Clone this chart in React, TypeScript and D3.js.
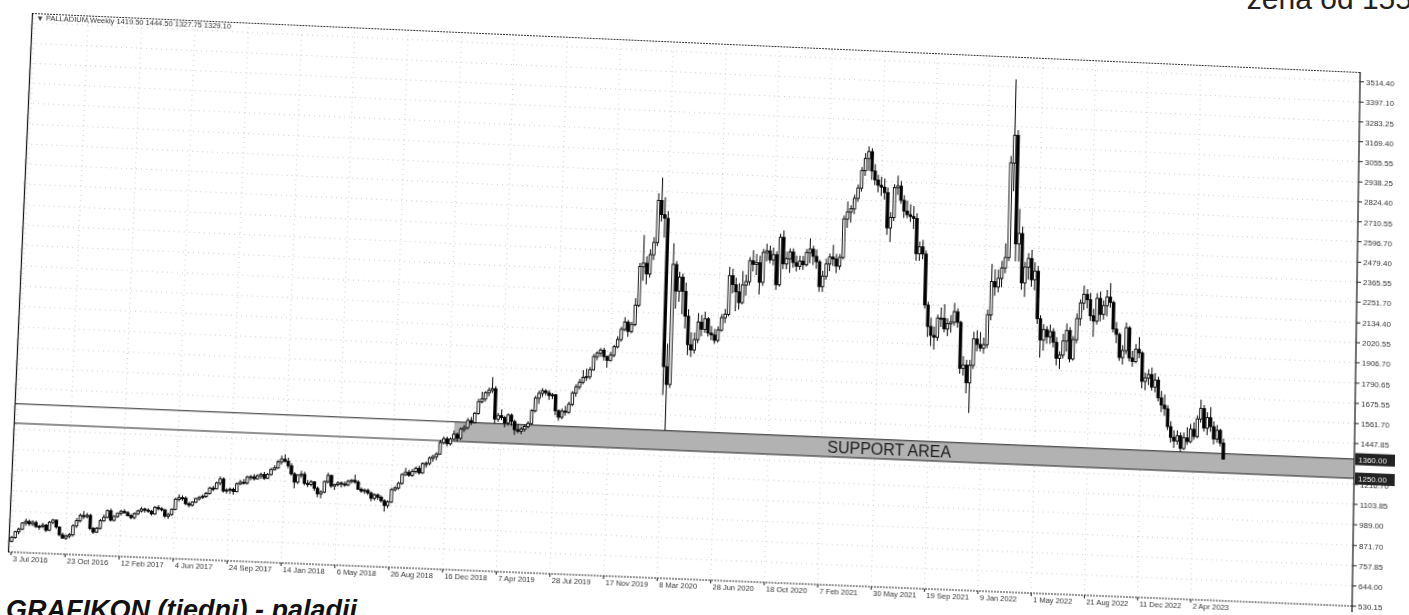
import React from 'react';
import * as d3 from 'd3';

// Weekly palladium bars [open, high, low, close], weeks starting 3 Jul 2016
const bars2016 = [
  [590,620,585,612],[612,650,605,645],[645,668,630,660],[660,700,655,695],[695,720,680,705],
  [705,715,680,690],[690,712,680,700],[700,710,670,678],[678,690,660,680],[680,700,670,688],
  [688,695,650,660],[660,712,655,705],[705,725,695,718],[718,720,670,680],[680,685,630,638],
  [638,650,615,620],[620,640,610,632],[632,650,620,640],[640,700,630,690],[690,735,680,720],
  [720,760,710,750],[750,775,730,745],[745,765,735,752],[752,760,670,680],[680,690,650,660],
  [660,690,655,682]
];
const bars2017 = [
  [682,735,675,725],[725,760,720,745],[745,790,740,782],[782,795,725,730],[730,760,725,752],
  [752,775,745,770],[770,790,760,782],[782,795,770,775],[775,785,755,760],[760,770,740,750],
  [750,780,740,772],[772,795,765,788],[788,810,780,800],[800,808,780,795],[795,805,780,790],
  [790,795,765,775],[775,820,770,812],[812,825,795,805],[805,815,790,800],[800,805,755,765],
  [765,785,750,775],[775,810,770,805],[805,870,800,862],[862,890,850,872],[872,885,855,870],
  [870,880,830,840],[840,850,820,832],[832,855,825,850],[850,875,845,870],[870,885,860,878],
  [878,895,870,885],[885,910,875,902],[902,940,895,932],[932,945,915,930],[930,970,925,962],
  [962,1000,950,985],[985,995,910,920],[920,935,905,925],[925,940,905,930],[930,940,900,918],
  [918,970,915,962],[962,985,955,972],[972,990,960,968],[968,1010,960,1002],[1002,1015,985,1005],
  [1005,1020,985,995],[995,1020,990,1012],[1012,1030,995,1020],[1020,1035,990,1000],[1000,1030,995,1022],
  [1022,1060,1015,1050],[1050,1075,1045,1060],[1060,1105,1055,1095]
];
const bars2018 = [
  [1095,1130,1080,1110],[1110,1138,1090,1100],[1100,1120,1060,1075],[1075,1090,1020,1030],
  [1030,1040,950,985],[985,1030,975,1025],[1025,1050,1010,1030],[1030,1045,970,980],
  [980,1000,960,975],[975,1000,965,990],[990,995,940,955],[955,965,905,925],
  [925,945,900,935],[935,1000,930,995],[995,1045,985,1030],[1030,1035,960,972],[972,985,950,980],
  [980,1000,970,990],[990,1000,965,985],[985,1000,970,980],[980,1010,975,1002],
  [1002,1015,990,1008],[1008,1040,990,1000],[1000,1010,955,960],[960,970,940,950],
  [950,965,935,955],[955,965,930,940],[940,950,895,912],[912,940,900,932],[932,940,905,920],
  [920,930,890,900],[900,910,840,875],[875,905,860,895],[895,975,890,965],
  [965,985,955,975],[975,1010,965,1002],[1002,1060,995,1052],[1052,1090,1045,1065],[1065,1080,1040,1050],
  [1050,1085,1040,1072],[1072,1100,1060,1090],[1090,1105,1055,1065],[1065,1125,1060,1118],
  [1118,1130,1095,1120],[1120,1160,1110,1150],[1150,1170,1130,1160],[1160,1185,1140,1175],
  [1175,1255,1170,1240],[1240,1275,1230,1262],[1262,1275,1220,1235],[1235,1270,1225,1262],[1262,1310,1255,1290]
];
const bars2019 = [
  [1290,1300,1250,1268],[1268,1330,1260,1320],[1320,1345,1305,1330],[1330,1385,1320,1370],
  [1370,1390,1345,1360],[1360,1420,1355,1412],[1412,1495,1405,1478],[1478,1535,1470,1495],
  [1495,1540,1480,1530],[1530,1560,1510,1545],[1545,1620,1530,1555],[1555,1570,1360,1385],[1385,1420,1370,1405],
  [1405,1440,1380,1395],[1395,1405,1340,1365],[1365,1420,1350,1410],[1410,1420,1350,1375],
  [1375,1385,1300,1330],[1330,1360,1310,1322],[1322,1345,1305,1335],[1335,1360,1320,1350],
  [1350,1380,1340,1368],[1368,1450,1360,1440],[1440,1525,1430,1512],[1512,1555,1480,1540],[1540,1570,1520,1555],
  [1555,1565,1530,1545],[1545,1560,1505,1530],[1530,1545,1510,1535],[1535,1540,1420,1445],
  [1445,1455,1390,1410],[1410,1460,1400,1445],[1445,1475,1420,1440],[1440,1500,1430,1485],
  [1485,1560,1475,1550],[1550,1600,1530,1585],[1585,1630,1570,1612],[1612,1680,1600,1640],[1640,1690,1620,1645],
  [1645,1700,1630,1685],[1685,1775,1680,1760],[1760,1790,1740,1780],[1780,1810,1760,1798],
  [1798,1812,1740,1762],[1762,1770,1700,1742],[1742,1790,1735,1772],[1772,1830,1760,1820],
  [1820,1880,1810,1862],[1862,1935,1850,1920],[1920,1990,1910,1962],[1962,1975,1880,1910],[1910,1965,1900,1950]
];
const bars2020 = [
  [1950,2100,1940,2060],[2060,2300,2050,2280],[2280,2460,2200,2300],[2300,2340,2180,2240],
  [2240,2380,2220,2350],[2350,2450,2320,2420],[2420,2700,2400,2660],[2660,2790,2540,2580],
  [2580,2680,2450,2560],[2560,2600,1560,1720],[1720,1850,1360,1620],[1620,2420,1600,2300],[2300,2320,2050,2150],
  [2150,2260,2090,2230],[2230,2250,2020,2150],[2150,2200,1940,2010],[2010,2050,1790,1850],
  [1850,1920,1780,1820],[1820,1920,1800,1880],[1880,2030,1860,1980],[1980,2020,1900,1940],[1940,2040,1920,2000],
  [2000,2010,1900,1920],[1920,1960,1880,1910],[1910,1945,1860,1880],[1880,1960,1870,1940],
  [1940,2030,1930,2010],[2010,2060,1980,2030],[2030,2300,2020,2250],[2250,2290,2150,2200],
  [2200,2240,2050,2160],[2160,2210,2060,2100],[2100,2280,2090,2200],[2200,2260,2140,2220],[2220,2360,2200,2340],
  [2340,2400,2280,2320],[2320,2380,2260,2330],[2330,2370,2150,2220],[2220,2410,2200,2390],
  [2390,2440,2340,2400],[2400,2430,2330,2350],[2350,2420,2320,2380],[2380,2400,2180,2210],
  [2210,2500,2200,2480],[2480,2520,2300,2330],[2330,2400,2300,2360],[2360,2420,2280,2400],[2400,2420,2310,2340],
  [2340,2380,2290,2320],[2320,2380,2300,2350],[2350,2380,2300,2330],[2330,2420,2320,2400]
];
const bars2021 = [
  [2400,2480,2340,2420],[2420,2440,2330,2380],[2380,2420,2310,2350],[2350,2360,2180,2210],[2210,2300,2180,2270],
  [2270,2370,2250,2340],[2340,2400,2300,2380],[2380,2450,2330,2370],[2370,2400,2290,2330],
  [2330,2400,2310,2380],[2380,2620,2370,2600],[2600,2700,2550,2640],[2640,2680,2580,2660],
  [2660,2740,2630,2720],[2720,2800,2700,2780],[2780,2900,2760,2880],[2880,2980,2850,2950],
  [2950,3020,2880,2990],[2990,3010,2830,2880],[2880,2920,2800,2830],[2830,2860,2760,2800],[2800,2850,2740,2790],
  [2790,2840,2720,2760],[2760,2790,2520,2560],[2560,2650,2480,2620],[2620,2810,2600,2790],
  [2790,2860,2750,2800],[2800,2830,2700,2720],[2720,2750,2620,2660],[2660,2720,2620,2640],
  [2640,2700,2600,2630],[2630,2690,2560,2620],[2620,2650,2380,2420],[2420,2490,2380,2460],[2460,2500,2390,2420],
  [2420,2440,2110,2130],[2130,2150,1950,2010],[2010,2060,1900,1960],[1960,2010,1880,1950],
  [1950,2080,1930,2060],[2060,2120,2010,2060],[2060,2140,1980,2000],[2000,2060,1960,2030],[2030,2080,1980,2040],
  [2040,2150,2020,2100],[2100,2120,2010,2040],[2040,2050,1750,1780],[1780,1850,1740,1800],
  [1800,1830,1640,1700],[1700,1830,1530,1800],[1800,1990,1780,1950],[1950,2000,1880,1920]
];
const bars2022 = [
  [1920,1990,1880,1900],[1900,1960,1870,1920],[1920,2120,1900,2090],[2090,2380,2060,2280],[2280,2350,2200,2250],
  [2250,2350,2220,2300],[2300,2400,2250,2360],[2360,2500,2330,2420],[2420,3000,2400,2960],
  [2960,3440,2800,3120],[3120,3150,2400,2500],[2500,2700,2400,2560],[2560,2600,2240,2280],
  [2280,2400,2200,2370],[2370,2450,2300,2420],[2420,2470,2260,2300],[2300,2400,2240,2350],
  [2350,2380,2050,2080],[2080,2100,1860,1960],[1960,2050,1900,2020],[2020,2040,1940,1980],[1980,2050,1940,2010],
  [2010,2030,1920,1950],[1950,1980,1820,1860],[1860,1900,1800,1880],[1880,2000,1860,1960],
  [1960,2060,1900,2020],[2020,2040,1840,1860],[1860,1990,1850,1970],[1970,2120,1950,2090],[2090,2200,2050,2180],
  [2180,2280,2140,2230],[2230,2260,2150,2200],[2200,2240,2080,2110],[2110,2150,1990,2080],
  [2080,2240,2060,2210],[2210,2250,2080,2120],[2120,2200,2090,2170],[2170,2260,2110,2220],
  [2220,2300,2160,2190],[2190,2200,2020,2040],[2040,2080,1960,2010],[2010,2020,1860,1880],[1880,1950,1840,1920],
  [1920,2080,1900,2050],[2050,2060,1860,1880],[1880,1920,1830,1860],[1860,1960,1850,1930],
  [1930,2000,1880,1910],[1910,1920,1710,1750],[1750,1800,1700,1770],[1770,1820,1730,1790]
];
const bars2023 = [
  [1790,1830,1700,1720],[1720,1800,1690,1760],[1760,1780,1640,1660],[1660,1700,1580,1620],[1620,1680,1560,1600],
  [1600,1620,1480,1500],[1500,1530,1410,1440],[1440,1480,1380,1420],[1420,1480,1400,1450],
  [1450,1470,1360,1380],[1380,1470,1370,1440],[1440,1500,1400,1420],[1420,1520,1410,1490],
  [1490,1530,1430,1450],[1450,1570,1440,1550],[1550,1660,1530,1610],[1610,1630,1480,1500],[1500,1590,1460,1560],
  [1560,1620,1480,1510],[1510,1540,1410,1440],[1440,1520,1420,1490],[1490,1500,1400,1419.5],
  [1419.5,1444.5,1327.75,1329.1]
];

const priceLabels = ["3514.40","3397.10","3283.25","3169.40","3055.55","2938.25","2824.40","2710.55","2596.70","2479.40","2365.55","2251.70","2134.40","2020.55","1906.70","1790.65","1675.55","1561.70","1447.85","1216.70","1103.85","989.00","871.70","757.85","644.00","530.15"];
const dateLabels = ["3 Jul 2016","23 Oct 2016","12 Feb 2017","4 Jun 2017","24 Sep 2017","14 Jan 2018","6 May 2018","26 Aug 2018","16 Dec 2018","7 Apr 2019","28 Jul 2019","17 Nov 2019","8 Mar 2020","28 Jun 2020","18 Oct 2020","7 Feb 2021","30 May 2021","19 Sep 2021","9 Jan 2022","1 May 2022","21 Aug 2022","11 Dec 2022","2 Apr 2023"];
const dateWeeks = [0,16,32,48,64,80,96,112,128,144,160,176,192,208,224,240,256,272,288,304,320,336,352];

const supportTop = 1360;
const supportBottom = 1250;
const supportStartWeek = 130;
const supportLabels = ["1360.00", "1250.00"];
const titleText = "PALLADIUM,Weekly  1419.50 1444.50 1327.75 1329.10";

// scanned page corners (TL, TR, BR, BL)
const quad = [[32, 13], [1360, 72], [1352, 606], [8, 552]];

function homography(W: number, H: number, q: number[][]) {
  const [[x0, y0], [x1, y1], [x2, y2], [x3, y3]] = q;
  const dx1 = x1 - x2, dx2 = x3 - x2, dx3 = x0 - x1 + x2 - x3;
  const dy1 = y1 - y2, dy2 = y3 - y2, dy3 = y0 - y1 + y2 - y3;
  const den = dx1 * dy2 - dx2 * dy1;
  const g = (dx3 * dy2 - dx2 * dy3) / den;
  const h = (dx1 * dy3 - dx3 * dy1) / den;
  const a = x1 - x0 + g * x1, b = x3 - x0 + h * x3, c = x0;
  const d = y1 - y0 + g * y1, e = y3 - y0 + h * y3, f = y0;
  const m = [a / W, d / W, 0, g / W, b / H, e / H, 0, h / H, 0, 0, 1, 0, c, f, 0, 1];
  return `matrix3d(${m.join(',')})`;
}

export default function App() {
  const W = 1337, H = 536;
  const bars = [...bars2016, ...bars2017, ...bars2018, ...bars2019, ...bars2020, ...bars2021, ...bars2022, ...bars2023];
  const x = d3.scaleLinear().domain([0, 352]).range([3, 1175]);
  const y = d3.scaleLinear().domain([530.15, 3570]).range([H, 0]);
  const bw = 2.5;
  const font = "'Liberation Sans', Arial, sans-serif";
  const tf = homography(W, H, quad);
  const bandX = x(supportStartWeek);

  return (
    <div style={{ position: 'absolute', left: 0, top: 0, width: 1409, height: 615, overflow: 'hidden', background: '#fff' }}>
      <svg width={1409} height={615} style={{ position: 'absolute', left: 0, top: 0 }}>
        <text x={1412} y={9} textAnchor="end" fontFamily="'Liberation Sans', Arial, sans-serif" fontSize={30} fill="#222">žena od 155</text>
        <text x={6} y={619} fontFamily="'Liberation Sans', Arial, sans-serif" fontSize={27} fontWeight="bold" fontStyle="italic" fill="#111">GRAFIKON (tjedni) - paladij</text>
      </svg>
      <svg width={W + 70} height={H + 30} style={{ position: 'absolute', left: 0, top: 0, transformOrigin: '0 0', transform: tf, overflow: 'visible' }}>
        <rect x={0} y={0} width={W} height={H} fill="#fff" />
        {priceLabels.map((p, i) => (
          <line key={'gh' + i} x1={0} x2={W} y1={y(+p)} y2={y(+p)} stroke="#c4c4c4" strokeWidth={0.8} strokeDasharray="1,4" />
        ))}
        {dateWeeks.map((w, i) => (
          <line key={'gv' + i} x1={x(w)} x2={x(w)} y1={0} y2={H} stroke="#c4c4c4" strokeWidth={0.8} strokeDasharray="1,4" />
        ))}
        <rect x={bandX} y={y(supportTop)} width={W - bandX} height={y(supportBottom) - y(supportTop)} fill="#b2b2b2" />
        <line x1={0} x2={W} y1={y(supportTop)} y2={y(supportTop)} stroke="#222" strokeWidth={1.1} />
        <line x1={0} x2={W} y1={y(supportBottom)} y2={y(supportBottom)} stroke="#222" strokeWidth={1.1} />
        <text x={870} y={(y(supportTop) + y(supportBottom)) / 2 + 6} textAnchor="middle" fontFamily={font} fontSize={16} fill="#1a1a1a">SUPPORT AREA</text>
        {bars.map((b, i) => {
          const [o, hi, lo, c] = b;
          const cx = x(i);
          const up = c >= o;
          const top = y(Math.max(o, c)), bot = y(Math.min(o, c));
          return (
            <g key={i}>
              <line x1={cx} x2={cx} y1={y(hi)} y2={y(lo)} stroke="#000" strokeWidth={1} />
              <rect x={cx - bw / 2} y={top} width={bw} height={Math.max(1, bot - top)} fill={up ? '#fff' : '#000'} stroke="#000" strokeWidth={0.9} />
            </g>
          );
        })}
        <line x1={0} x2={W} y1={0.5} y2={0.5} stroke="#333" strokeWidth={1} strokeDasharray="2,1" />
        <line x1={0} x2={W} y1={H} y2={H} stroke="#333" strokeWidth={1} strokeDasharray="2,1" />
        <line x1={0.5} x2={0.5} y1={0} y2={H} stroke="#111" strokeWidth={1.2} />
        <line x1={W} x2={W} y1={0} y2={H + 6} stroke="#111" strokeWidth={1.2} />
        <text x={6} y={7} fontFamily="'DejaVu Sans', sans-serif" fontSize={6} fill="#333">▼</text>
        <text x={14} y={7} fontFamily={font} fontSize={7.5} fill="#333">{titleText}</text>
        {priceLabels.map((p, i) => (
          <g key={'pl' + i}>
            <line x1={W} x2={W + 4} y1={y(+p)} y2={y(+p)} stroke="#222" />
            <text x={W + 6} y={y(+p) + 3} fontFamily={font} fontSize={8} fill="#333">{p}</text>
          </g>
        ))}
        {supportLabels.map((s, i) => {
          const yy = y(i === 0 ? supportTop : supportBottom);
          return (
            <g key={'sl' + i}>
              <rect x={W + 1} y={yy - 6} width={40} height={12} fill="#222" />
              <text x={W + 4} y={yy + 3} fontFamily={font} fontSize={8} fill="#eee">{s}</text>
            </g>
          );
        })}
        {dateLabels.map((d, i) => (
          <g key={'dl' + i}>
            <line x1={x(dateWeeks[i])} x2={x(dateWeeks[i])} y1={H} y2={H + 3} stroke="#222" />
            <text x={x(dateWeeks[i]) + 2} y={H + 9} fontFamily={font} fontSize={7.5} fill="#333">{d}</text>
          </g>
        ))}
      </svg>
    </div>
  );
}
